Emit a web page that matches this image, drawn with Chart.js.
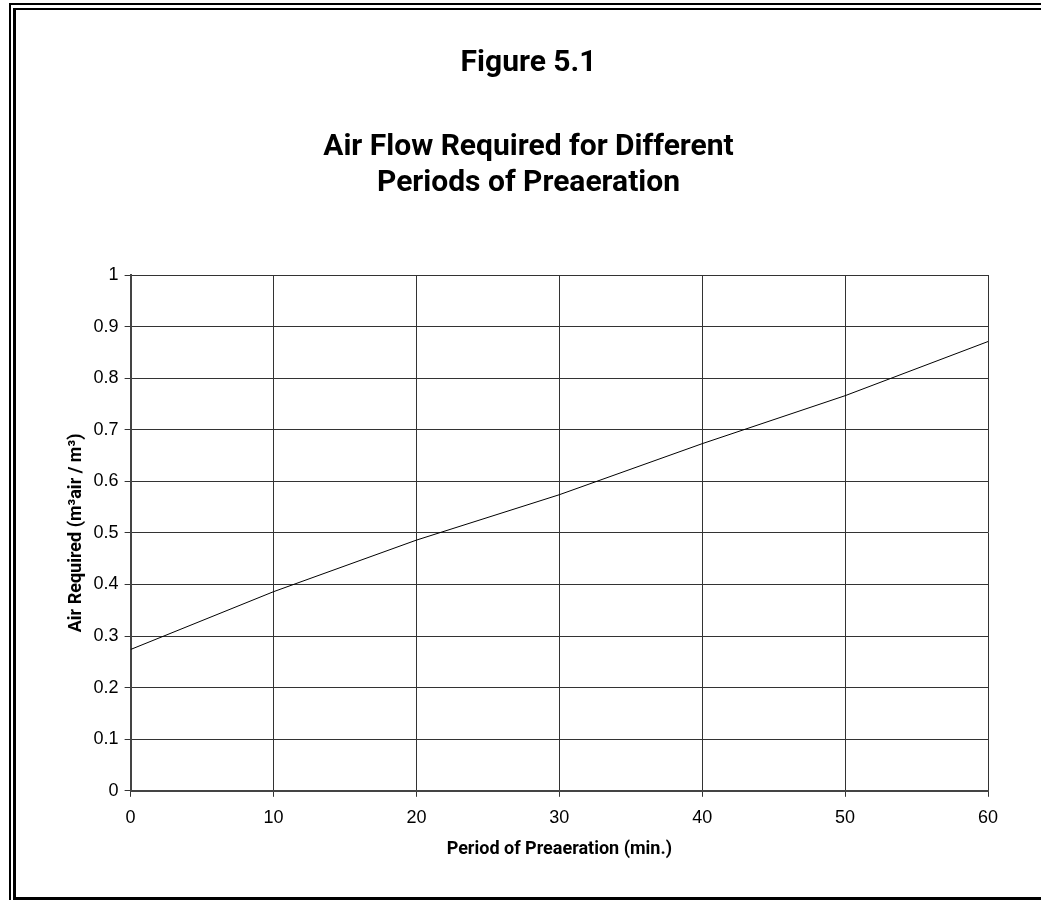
<!DOCTYPE html>
<html>
<head>
<meta charset="utf-8">
<script src="https://cdn.jsdelivr.net/npm/chart.js@4/dist/chart.umd.min.js"></script>
<style>
  html, body { margin: 0; padding: 0; background: #fff; overflow: hidden; }
  #wrap { position: relative; width: 1041px; height: 900px; }
  #air-chart { position: absolute; left: 0; top: 0; }
  .frame { position: absolute; border-style: solid; border-color: #000; pointer-events: none; }
  .outer { left: 9px; top: 3px; width: 1100px; height: 1000px; border-width: 2px; }
  .inner { left: 13px; top: 8px; width: 1100px; height: 887px; border-width: 2px 3px 3px 3px; }
</style>
</head>
<body>
<div id="wrap">
  <canvas id="air-chart" width="1041" height="900"></canvas>
  <div class="frame outer"></div>
  <div class="frame inner"></div>
</div>
<script>
const periods = [0, 10, 20, 30, 40, 50, 60];
const airRequired = [0.274, 0.386, 0.486, 0.574, 0.673, 0.766, 0.871];
const xTickLabels = ['0', '10', '20', '30', '40', '50', '60'];
const yTickLabels = ['0', '0.1', '0.2', '0.3', '0.4', '0.5', '0.6', '0.7', '0.8', '0.9', '1'];

const heading = "Roboto, 'Liberation Sans', sans-serif";
const plain = "'Liberation Sans', Arial, sans-serif";

const ctx = document.getElementById('air-chart');
new Chart(ctx, {
  type: 'line',
  data: {
    datasets: [
      {
        label: 'Air Required',
        data: periods.map((p, i) => ({ x: p, y: airRequired[i] })),
        borderColor: '#000',
        borderWidth: 1,
        pointRadius: 0,
        tension: 0,
        fill: false,
      },
    ],
  },
  options: {
    responsive: false,
    animation: false,
    layout: { padding: { left: 16, right: 0, top: 0, bottom: 40 } },
    scales: {
      x: {
        type: 'linear',
        min: 0,
        max: 60,
        ticks: {
          stepSize: 10,
          color: '#000',
          padding: 10,
          font: { family: plain, size: 18 },
          callback: (value, index) => xTickLabels[index],
        },
        grid: { color: '#333', lineWidth: 1, tickLength: 6 },
        border: { color: '#444', width: 2 },
        title: {
          display: true,
          text: 'Period of Preaeration (min.)',
          color: '#000',
          font: { family: heading, size: 18, weight: 'bold' },
          padding: { top: 0, bottom: 0 },
        },
      },
      y: {
        min: 0,
        max: 1,
        ticks: {
          stepSize: 0.1,
          color: '#000',
          padding: 6,
          font: { family: plain, size: 18 },
          callback: (value, index) => yTickLabels[index],
        },
        grid: { color: '#333', lineWidth: 1, tickLength: 6 },
        border: { color: '#444', width: 2 },
        title: {
          display: true,
          text: 'Air Required (m³air / m³)',
          color: '#000',
          font: { family: heading, size: 18, weight: 'bold' },
          padding: { top: 50, bottom: 0 },
        },
      },
      // empty right axis, only keeps the plot clear of the frame
      yRight: {
        position: 'right',
        min: 0,
        max: 1,
        ticks: { display: false },
        grid: { display: false },
        border: { display: false },
        afterFit: (scale) => { scale.width = 53; },
      },
    },
    plugins: {
      legend: { display: false },
      tooltip: { enabled: false },
      title: {
        display: true,
        text: 'Figure 5.1',
        color: '#000',
        font: { family: heading, size: 30, weight: 'bold', lineHeight: 1.2 },
        padding: { top: 45, bottom: 48 },
      },
      subtitle: {
        display: true,
        text: ['Air Flow Required for Different', 'Periods of Preaeration'],
        color: '#000',
        font: { family: heading, size: 30, weight: 'bold', lineHeight: 1.2 },
        padding: { top: 0, bottom: 74 },
      },
    },
  },
});
</script>
</body>
</html>
